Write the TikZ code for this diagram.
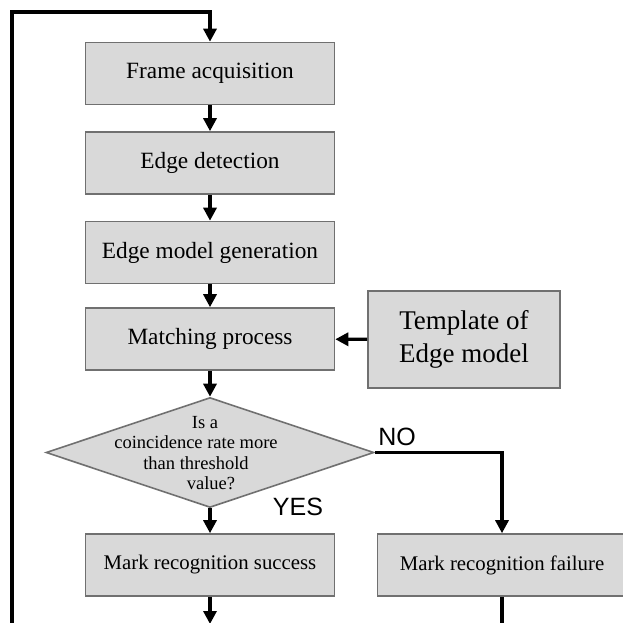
\documentclass[tikz,border=0pt]{standalone}
\usepackage{fontspec}
\setmainfont{Liberation Serif}
\newfontfamily\labelfont{Liberation Sans}
\usetikzlibrary{shapes.geometric,arrows.meta}
\definecolor{boxfill}{RGB}{217,217,217}
\definecolor{boxline}{RGB}{112,112,112}

\begin{document}
\begin{tikzpicture}[x=1pt,y=-1pt,
	stepbox/.style={draw=boxline, fill=boxfill, line width=1.6pt, minimum width=249pt, minimum height=62pt, inner sep=0pt, font=\fontsize{23.3}{25}\selectfont},
	resultbox/.style={stepbox, font=\fontsize{20.8}{23}\selectfont},
	decision/.style={diamond, draw=boxline, fill=boxfill, line width=1.6pt, minimum width=328pt, minimum height=110pt, inner sep=0pt},
	flow/.style={line width=3.2pt, -{Triangle[length=13pt,width=13pt]}},
	plain/.style={line width=3.2pt},
	answer/.style={font=\labelfont\fontsize{25}{26}\selectfont}]
		\useasboundingbox (0,0) rectangle (623,623);
		\clip (0,0) rectangle (623,623);

		%main column of steps
		\foreach \name/\y/\txt in {frame/73.5/Frame acquisition, edges/163/Edge detection, model/252.5/Edge model generation, match/339/Matching process}
		\node[stepbox] (\name) at (210,\y) {\txt};

		%side box and results
		\node[stepbox, minimum width=192pt, minimum height=97pt, font=\fontsize{27}{33}\selectfont, align=center] (template) at (464,339.5) {Template of\\ Edge model};
		\node[resultbox] (success) at (210,565) {Mark recognition success};
		\node[resultbox] (failure) at (502,565) {Mark recognition failure};

		%decision
		\node[decision] (check) at (210,452.5) {};
		\node[font=\fontsize{18.5}{20.5}\selectfont, align=center] (question) at (196,453) {\hspace*{18pt}Is a\\coincidence rate more\\than threshold\\\hspace*{30pt}value?};
		\node[answer] (no) at (397,437) {NO};
		\node[answer] (yes) at (298,507) {YES};

		%arrows
		\foreach \a/\b in {frame/edges, edges/model, model/match, match/check, check/success}
		\draw[flow] (\a) -- (\b);
		\draw[flow] (template) -- (match);
		\draw[flow] (check.east) -| (failure.north);

		%loop back to start
		\coordinate (loopbottom) at (12,630);
		\coordinate (looptop) at (12,12);
		\draw[flow] (loopbottom) -- (looptop) -| (frame.north);
		\coordinate (succend) at (210,624);
		\coordinate (failend) at (502,630);
		\draw[flow] (success) -- (succend);
		\draw[plain] (failure) -- (failend);
\end{tikzpicture}
\end{document}
